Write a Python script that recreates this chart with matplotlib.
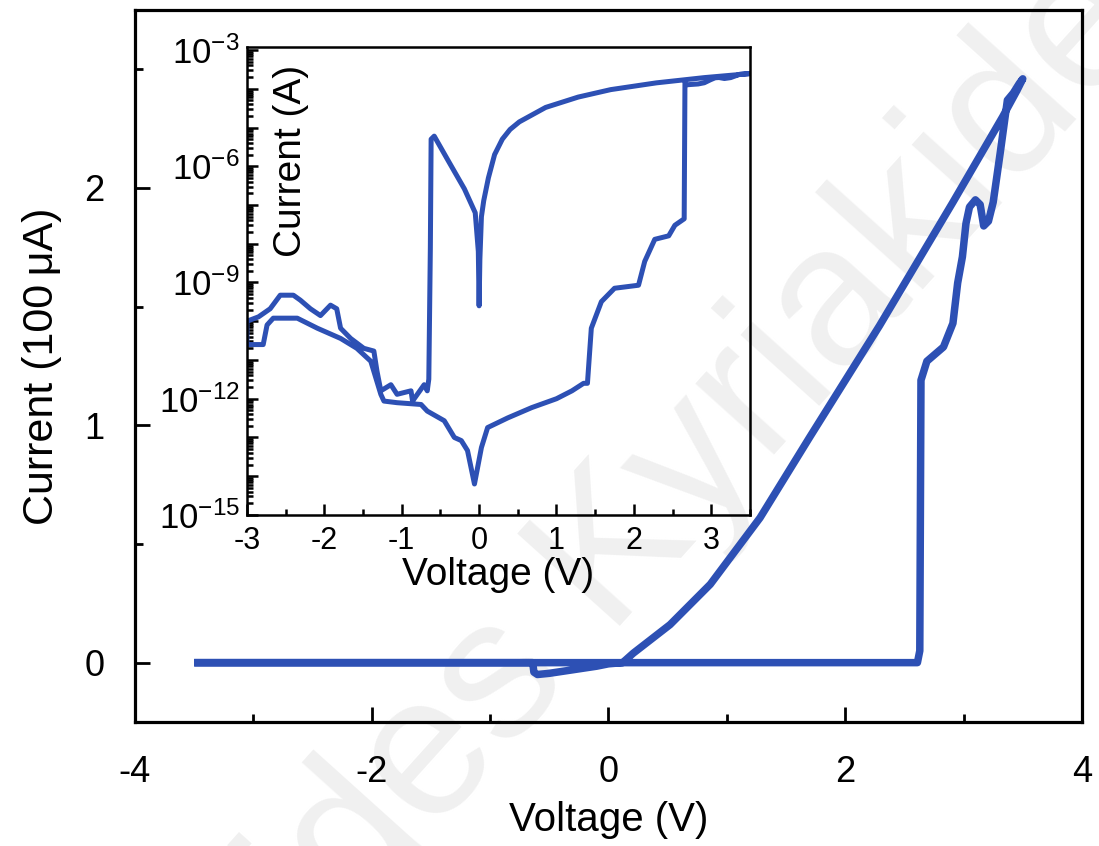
import matplotlib
matplotlib.use("Agg")
import matplotlib.pyplot as plt
import matplotlib.ticker as mticker
import numpy as np

plt.rcParams['font.family'] = ['Liberation Sans', 'DejaVu Sans']
plt.rcParams['mathtext.fontset'] = 'custom'
plt.rcParams['mathtext.rm'] = 'Liberation Sans'
plt.rcParams['mathtext.default'] = 'regular'
plt.rcParams['axes.unicode_minus'] = False

blue = '#2d50b4'

# main sweep, current in units of 100 uA
main_v = [-3.50, 2.61, 2.63, 2.64, 2.69, 2.83, 2.91, 2.95, 2.99, 3.02, 3.05,
          3.10, 3.14, 3.17, 3.21, 3.25, 3.31, 3.37, 3.42, 3.47, 3.50,
          3.45, 3.33, 2.91, 2.29, 1.70, 1.28, 0.86, 0.52, 0.21, 0.12,
          0.00, -0.10, -0.30, -0.50, -0.60, -0.63, -0.64, -3.50]
main_i = [0.00, 0.00, 0.05, 1.19, 1.27, 1.33, 1.43, 1.60, 1.71, 1.85, 1.92,
          1.95, 1.93, 1.84, 1.86, 1.94, 2.15, 2.37, 2.40, 2.44, 2.46,
          2.41, 2.30, 1.94, 1.42, 0.95, 0.61, 0.33, 0.16, 0.04, 0.00,
          -0.005, -0.015, -0.03, -0.045, -0.05, -0.04, 0.00, 0.00]

# inset, |current| in A (log scale)
ins_v = [3.50, 3.33, 2.91, 2.29, 1.70, 1.28, 0.86, 0.52, 0.40, 0.30, 0.20,
         0.12, 0.06, 0.03, 0.01, 0.00,
         -0.01, -0.05, -0.19, -0.40, -0.58, -0.62, -0.63, -0.65, -0.67,
         -0.71, -0.86, -0.88, -1.06, -1.14, -1.27, -1.32, -1.36, -1.49,
         -1.66, -1.79, -1.84, -1.92, -2.05, -2.18, -2.31, -2.40, -2.57,
         -2.70, -2.85, -3.00,
         -3.00, -2.79, -2.74, -2.66, -2.35, -2.09, -1.79, -1.58, -1.40,
         -1.27, -1.23, -1.06, -0.75, -0.67, -0.45, -0.32, -0.23, -0.15,
         -0.06, 0.03, 0.11, 0.37, 0.68, 1.00, 1.20, 1.35, 1.40, 1.45,
         1.58, 1.75, 2.06, 2.14, 2.27, 2.45, 2.53, 2.65, 2.66, 2.69,
         2.83, 2.91, 2.99, 3.05, 3.10, 3.17, 3.25, 3.37, 3.50]
ins_i = [2.46e-4, 2.30e-4, 1.94e-4, 1.42e-4, 9.5e-5, 6.1e-5, 3.3e-5, 1.4e-5,
         8.9e-6, 5.0e-6, 2.0e-6, 5.0e-7, 1.3e-7, 5.0e-8, 4.0e-9, 2.5e-10,
         6.3e-9, 6.3e-8, 2.6e-7, 1.4e-6, 6.0e-6, 5.0e-6, 8.0e-9, 3.2e-12,
         1.6e-12, 2.3e-12, 8.7e-13, 1.6e-12, 1.3e-12, 2.3e-12, 1.6e-12,
         5.2e-12, 1.7e-11, 2.0e-11, 3.6e-11, 6.6e-11, 2.1e-10, 2.6e-10,
         1.4e-10, 2.1e-10, 3.5e-10, 4.7e-10, 4.7e-10, 2.1e-10, 1.3e-10,
         1.0e-10,
         2.5e-11, 2.5e-11, 8.0e-11, 1.2e-10, 1.2e-10, 6.6e-11, 3.6e-11,
         2.0e-11, 9.3e-12, 1.3e-12, 8.7e-13, 7.9e-13, 7.1e-13, 4.8e-13,
         2.7e-13, 1.0e-13, 8.3e-14, 4.6e-14, 6.3e-15, 5.5e-14, 1.8e-13,
         3.2e-13, 5.9e-13, 1.0e-12, 1.6e-12, 2.5e-12, 2.5e-12, 6.6e-11,
         3.2e-10, 7.1e-10, 8.5e-10, 3.5e-9, 1.3e-8, 1.6e-8, 3.0e-8,
         4.4e-8, 1.4e-4, 1.27e-4, 1.33e-4, 1.43e-4, 1.71e-4, 1.92e-4,
         1.95e-4, 1.84e-4, 1.94e-4, 2.37e-4, 2.46e-4]

main_xticks = [-4, -2, 0, 2, 4]
main_yticks = [0, 1, 2]
ins_xticks = [-3, -2, -1, 0, 1, 2, 3]
ins_ylabels = [1e-3, 1e-6, 1e-9, 1e-12, 1e-15]

fig = plt.figure(figsize=(10.99, 8.46), dpi=100)

# faint watermark behind everything
fig.text(-0.041, -0.613, 'Kyriakides Kyriakides', rotation=48,
         rotation_mode='anchor', ha='left', va='baseline', fontsize=144,
         color='#f0f0f0', zorder=-5)

ax = fig.add_axes([0.1228, 0.1466, 0.8617, 0.8416])
ax.set_facecolor('none')
ax.plot(main_v, main_i, color=blue, lw=5.4, solid_joinstyle='round',
        solid_capstyle='butt')
ax.set_xlim(-4, 4)
ax.set_ylim(-0.25, 2.75)
ax.set_xticks(main_xticks)
ax.set_yticks(main_yticks)
ax.xaxis.set_minor_locator(mticker.MultipleLocator(1))
ax.yaxis.set_minor_locator(mticker.MultipleLocator(0.5))
ax.tick_params(which='both', direction='in', width=2, top=False, right=False)
ax.tick_params(which='major', length=11)
ax.tick_params(which='minor', length=6)
ax.tick_params(axis='x', which='major', labelsize=26, pad=24)
ax.tick_params(axis='y', which='major', labelsize=26, pad=22)
for s in ax.spines.values():
    s.set_linewidth(2.3)
ax.set_xlabel('Voltage (V)', fontsize=29, labelpad=8)
ax.set_ylabel('Current (100\u2009\u03bcA)', fontsize=31, labelpad=16)

ins = fig.add_axes([0.2247, 0.3913, 0.4577, 0.5532])
ins.set_facecolor('none')
ins.plot(ins_v, ins_i, color=blue, lw=3.6, solid_joinstyle='round')
ins.set_yscale('log')
ins.set_xlim(-3, 3.5)
ins.set_ylim(1e-15, 1.2e-3)
ins.set_xticks(ins_xticks)
ins.xaxis.set_minor_locator(mticker.MultipleLocator(0.5))
ins.yaxis.set_major_locator(mticker.LogLocator(base=10, numticks=30))
ins.yaxis.set_minor_locator(mticker.LogLocator(base=10, subs=np.arange(2, 10),
                                               numticks=30))
ins.yaxis.set_minor_formatter(mticker.NullFormatter())


def dec_label(val, pos):
    if any(abs(np.log10(val) - np.log10(t)) < 0.01 for t in ins_ylabels):
        return '$10^{%d}$' % round(np.log10(val))
    return ''


ins.yaxis.set_major_formatter(mticker.FuncFormatter(dec_label))
ins.tick_params(which='both', direction='in', width=1.8, top=False,
                right=False)
ins.tick_params(which='major', length=8)
ins.tick_params(which='minor', length=4)
ins.tick_params(axis='x', labelsize=22, pad=8)
ins.tick_params(axis='y', labelsize=25, pad=5)
for s in ins.spines.values():
    s.set_linewidth(1.8)
ins.set_xlabel('Voltage (V)', fontsize=28, labelpad=1)
ins.text(0.087, 0.756, 'Current (A)', transform=ins.transAxes, rotation=90,
         ha='center', va='center', fontsize=28)

fig.savefig('out.png', dpi=100)
